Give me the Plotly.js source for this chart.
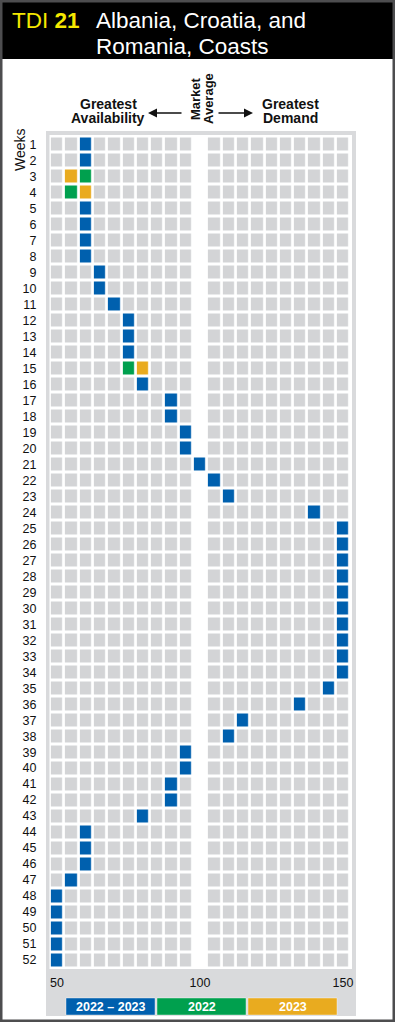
<!DOCTYPE html>
<html>
<head>
<meta charset="utf-8">
<script src="https://cdn.plot.ly/plotly-3.0.1.min.js"></script>
<style>html,body{margin:0;padding:0;background:#fff;}#chart{width:395px;height:1022px;}</style>
</head>
<body>
<div id="chart"></div>
<script>
// ---------- data ----------
const weeks = [1,2,3,4,5,6,7,8,9,10,11,12,13,14,15,16,17,18,19,20,21,22,23,24,25,26,
  27,28,29,30,31,32,33,34,35,36,37,38,39,40,41,42,43,44,45,46,47,48,49,50,51,52];
const columns = [50,55,60,65,70,75,80,85,90,95,100,105,110,115,120,125,130,135,140,145,150];
const marketAverage = 100;
// 2022–2023 combined index (null where 2022 and 2023 differ)
const index2022_2023 = [60,60,null,null,60,60,60,60,65,65,
  70,75,75,75,null,80,90,90,95,95,
  100,105,110,140,150,150,150,150,150,150,
  150,150,150,150,145,135,115,110,95,95,
  90,90,80,60,60,60,55,50,50,50,
  50,50];
const splitWeeks = [3,4,15];
const index2022 = [60,55,75];
const index2023 = [55,60,80];
const xTickVals = [50,100,150];
const legendLabels = ['2022 \u2013 2023','2022','2023'];
const legendColors = ['#0060ae','#00a04e','#e9ab1f'];
const cellGray = '#d3d4d6';

// ---------- build matrix ----------
const z = weeks.map(() => columns.map(c => c === marketAverage ? null : 0));
weeks.forEach((w, i) => {
  const v = index2022_2023[i];
  if (v !== null) z[i][columns.indexOf(v)] = 1;
});
splitWeeks.forEach((w, k) => {
  const i = weeks.indexOf(w);
  z[i][columns.indexOf(index2022[k])] = 2;
  z[i][columns.indexOf(index2023[k])] = 3;
});

const W = 395, H = 1022;
const px = x => x / W;
const py = y => 1 - y / H;

const trace = {
  type: 'heatmap', x: columns, y: weeks, z: z,
  zmin: 0, zmax: 3, showscale: false, hoverinfo: 'skip',
  xgap: 2.8, ygap: 3,
  colorscale: [[0, cellGray],[0.1667, cellGray],[0.1667, legendColors[0]],[0.5, legendColors[0]],
               [0.5, legendColors[1]],[0.8333, legendColors[1]],[0.8333, legendColors[2]],[1, legendColors[2]]]
};

const font = 'Liberation Sans, Arial, sans-serif';
const shapes = [
  {type:'rect', xref:'paper', yref:'paper', x0:0, x1:1, y0:py(59), y1:1, fillcolor:'#000', line:{width:0}, layer:'below'},
  {type:'rect', xref:'paper', yref:'paper', x0:px(46), x1:px(356), y0:py(1016), y1:py(131), fillcolor:'#d9dadc', line:{width:0}, layer:'below'},
  {type:'rect', xref:'paper', yref:'paper', x0:px(49.5), x1:px(352), y0:py(969), y1:py(135), fillcolor:'#fff', line:{width:0}, layer:'below'},
  {type:'rect', xref:'paper', yref:'paper', x0:0, x1:1, y0:0, y1:1, fillcolor:'rgba(0,0,0,0)', line:{width:5, color:'#4d4d4f'}, layer:'above'}
];
const annotations = [];
legendLabels.forEach((lab, i) => {
  const x0 = 66 + i * 91, x1 = x0 + 89;
  shapes.push({type:'rect', xref:'paper', yref:'paper', x0:px(x0), x1:px(x1), y0:py(1015), y1:py(998),
    fillcolor: legendColors[i], line:{width:0.8, color:'rgba(255,255,255,0.5)'}});
  annotations.push({xref:'paper', yref:'paper', x:px((x0+x1)/2), y:py(1006.5), text:'<b>'+lab+'</b>',
    showarrow:false, xanchor:'center', yanchor:'middle', font:{family:font, size:12.5, color:'#fff'}});
});
// title
annotations.push({xref:'paper', yref:'paper', x:px(10), y:py(21), xanchor:'left', yanchor:'middle', showarrow:false,
  text:'TDI <b>21</b>', font:{family:font, size:22.5, color:'#f5e800'}});
annotations.push({xref:'paper', yref:'paper', x:px(94), y:py(21), xanchor:'left', yanchor:'middle', showarrow:false,
  text:'Albania, Croatia, and', font:{family:font, size:22.5, color:'#fff'}});
annotations.push({xref:'paper', yref:'paper', x:px(94), y:py(46.5), xanchor:'left', yanchor:'middle', showarrow:false,
  text:'Romania, Coasts', font:{family:font, size:22.5, color:'#fff'}});
// header labels
const hf = {family:font, size:14, color:'#111', weight:'bold'};
[['Greatest',108,104],['Availability',108,118],['Greatest',290,104],['Demand',290,118]].forEach(t => {
  annotations.push({xref:'paper', yref:'paper', x:px(t[1]), y:py(t[2]), text:t[0], showarrow:false,
    xanchor:'center', yanchor:'middle', font:hf});
});
[['Market',195],['Average',208]].forEach(t => {
  annotations.push({xref:'paper', yref:'paper', x:px(t[1]), y:py(99), text:t[0], showarrow:false, textangle:-90,
    xanchor:'center', yanchor:'middle', font:{family:font, size:13, color:'#111', weight:'bold'}});
});
annotations.push({xref:'paper', yref:'paper', x:px(20), y:py(150), text:'Weeks', showarrow:false, textangle:-90,
  xanchor:'center', yanchor:'middle', font:{family:font, size:14, color:'#111'}});
// arrows
annotations.push({xref:'paper', yref:'paper', x:px(148), y:py(113), ax:35, ay:0, text:'', showarrow:true,
  arrowhead:2, arrowsize:1.2, arrowwidth:1.5, arrowcolor:'#111'});
annotations.push({xref:'paper', yref:'paper', x:px(253), y:py(113), ax:-36, ay:0, text:'', showarrow:true,
  arrowhead:2, arrowsize:1.2, arrowwidth:1.5, arrowcolor:'#111'});

const layout = {
  width: W, height: H, margin:{l:0, r:0, t:0, b:0},
  paper_bgcolor:'#fff', plot_bgcolor:'rgba(0,0,0,0)', showlegend:false,
  font:{family:font, color:'#111'},
  xaxis:{domain:[px(49.85), px(350.15)], range:[47.5,152.5], tickvals:xTickVals, ticks:'outside', ticklen:3,
    tickcolor:'rgba(0,0,0,0)', showgrid:false, zeroline:false, showline:false, fixedrange:true,
    tickfont:{family:font, size:12.5, color:'#111'}, automargin:false},
  yaxis:{domain:[py(968), py(136.5)], range:[52.5,0.5], tickvals:weeks, ticktext:weeks.map(String), ticks:'outside',
    ticklen:10, tickcolor:'rgba(0,0,0,0)', showgrid:false, zeroline:false, showline:false, fixedrange:true,
    tickfont:{family:font, size:12.5, color:'#111'}, automargin:false},
  shapes: shapes, annotations: annotations
};
Plotly.newPlot('chart', [trace], layout, {displayModeBar:false, staticPlot:true});
</script>
</body>
</html>
